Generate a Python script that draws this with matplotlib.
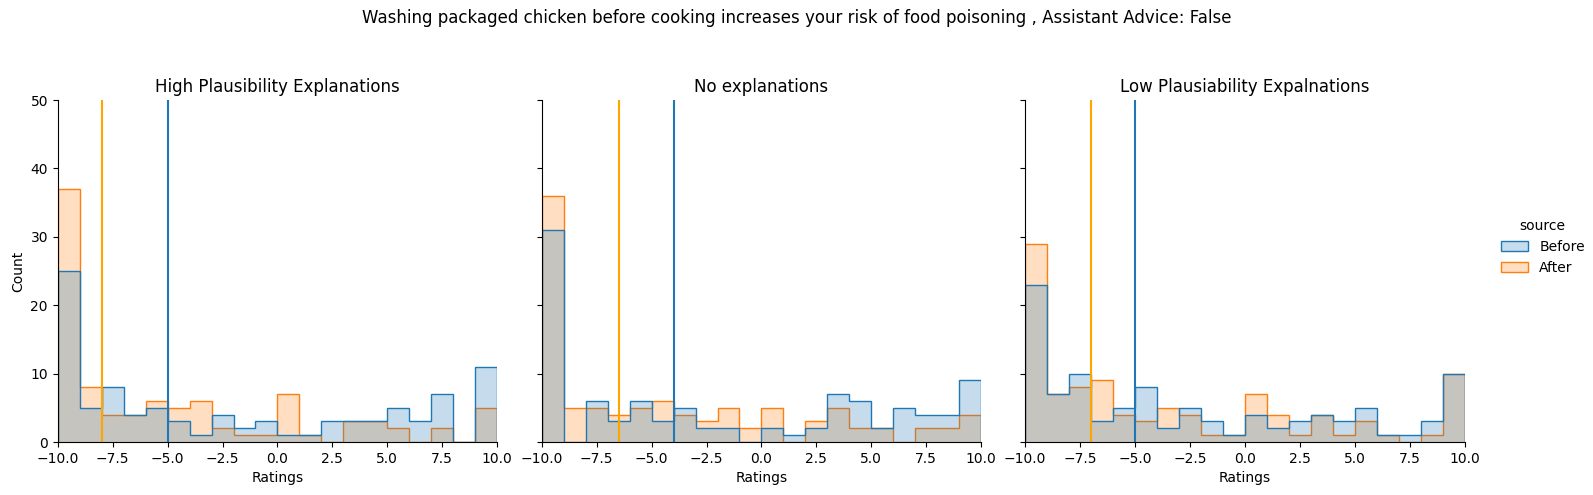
import numpy as np
import matplotlib
matplotlib.use("Agg")
import matplotlib.pyplot as plt
from matplotlib.patches import Patch

# ---- data ----
bin_edges = list(range(-10, 11))
panel_titles = ["High Plausibility Explanations", "No explanations", "Low Plausiability Expalnations"]
sources = ["Before", "After"]

high_before = [25, 5, 8, 4, 5, 3, 1, 4, 2, 3, 1, 1, 3, 3, 3, 5, 3, 7, 0, 11]
high_after = [37, 8, 4, 4, 6, 5, 6, 2, 1, 1, 7, 1, 0, 3, 3, 2, 0, 2, 0, 5]
none_before = [31, 0, 6, 3, 6, 3, 5, 2, 2, 0, 2, 1, 2, 7, 6, 2, 5, 4, 4, 9]
none_after = [36, 5, 5, 4, 5, 6, 4, 3, 5, 2, 5, 0, 3, 5, 2, 2, 0, 2, 2, 4]
low_before = [23, 7, 10, 3, 5, 8, 2, 5, 3, 1, 4, 2, 3, 4, 3, 5, 1, 1, 3, 10]
low_after = [29, 7, 8, 9, 4, 3, 5, 4, 1, 1, 7, 4, 1, 4, 1, 3, 1, 0, 1, 10]

median_before = [-5, -4, -5]
median_after = [-8, -6.5, -7]

xticks = [-10.0, -7.5, -5.0, -2.5, 0.0, 2.5, 5.0, 7.5, 10.0]
yticks = [0, 10, 20, 30, 40, 50]

suptitle = "Washing packaged chicken before cooking increases your risk of food poisoning , Assistant Advice: False"

before_sets = [high_before, none_before, low_before]
after_sets = [high_after, none_after, low_after]

C_BEFORE = "#1f77b4"
C_AFTER = "#ff7f0e"

W, H = 1593, 495
fig = plt.figure(figsize=(W / 100, H / 100), dpi=100)

lefts = [57.7, 541.7, 1025.0]
ax_w = 439.5
ax_top = 100.0
ax_bot = 442.0

axes = []
for i in range(3):
    ax = fig.add_axes([lefts[i] / W, (H - ax_bot) / H, ax_w / W, (ax_bot - ax_top) / H])
    axes.append(ax)
    edges = np.array(bin_edges, dtype=float)
    # After drawn first, Before on top (seaborn reverse hue order)
    for counts, col in [(after_sets[i], C_AFTER), (before_sets[i], C_BEFORE)]:
        ax.stairs(counts, edges, fill=True, facecolor=col, alpha=0.25, edgecolor="none", baseline=0)
        ax.stairs(counts, edges, fill=False, color=col, linewidth=1.0, baseline=0)
    ax.axvline(median_after[i], color="orange", linewidth=1.5)
    ax.axvline(median_before[i], color=C_BEFORE, linewidth=1.5)
    ax.set_xlim(-10, 10)
    ax.set_ylim(0, 50)
    ax.set_xticks(xticks)
    ax.set_yticks(yticks)
    ax.spines["top"].set_visible(False)
    ax.spines["right"].set_visible(False)
    ax.set_title(panel_titles[i], fontsize=12)
    ax.set_xlabel("Ratings")
    if i == 0:
        ax.set_ylabel("Count")
    else:
        ax.tick_params(labelleft=False)

fig.suptitle(suptitle, x=0.5, y=1 - 18 / H, va="center", fontsize=12)

handles = [Patch(facecolor=(*matplotlib.colors.to_rgb(C_BEFORE), 0.25), edgecolor=C_BEFORE, linewidth=1.0, label="Before"),
           Patch(facecolor=(*matplotlib.colors.to_rgb(C_AFTER), 0.25), edgecolor=C_AFTER, linewidth=1.0, label="After")]
fig.legend(handles=handles, labels=sources, title="source", frameon=False,
           loc="center left", bbox_to_anchor=(1488 / W, 1 - 247 / H), fontsize=10, title_fontsize=10)

fig.savefig("out.png", dpi=100)
